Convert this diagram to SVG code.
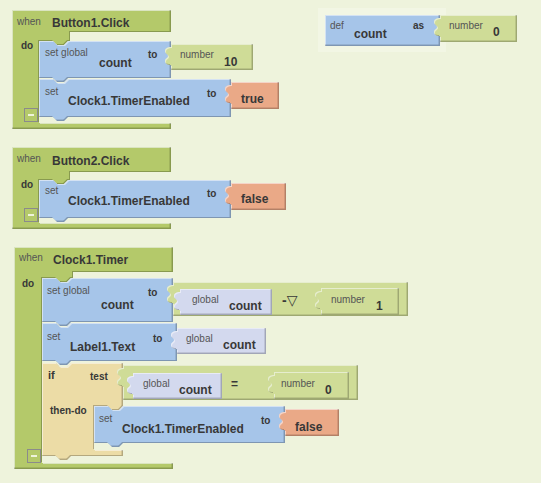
<svg xmlns="http://www.w3.org/2000/svg" width="541" height="483" viewBox="0 0 541 483">
<defs>
<filter id="bevel" x="-5%" y="-10%" width="110%" height="120%">
<feOffset in="SourceAlpha" dx="-1.5" dy="-1.5" result="up"/>
<feComposite in="SourceAlpha" in2="up" operator="out" result="shEdge"/>
<feFlood flood-color="#000" flood-opacity="0.45"/>
<feComposite in2="shEdge" operator="in" result="sh"/>
<feOffset in="SourceAlpha" dx="1" dy="1" result="dn"/>
<feComposite in="SourceAlpha" in2="dn" operator="out" result="hlEdge"/>
<feFlood flood-color="#fff" flood-opacity="0.45"/>
<feComposite in2="hlEdge" operator="in" result="hl"/>
<feMerge><feMergeNode in="SourceGraphic"/><feMergeNode in="hl"/><feMergeNode in="sh"/></feMerge>
</filter>
</defs>
<style>
.blk{filter:url(#bevel)}
.ev{fill:#b4c96a}
.st{fill:#a6c5e9}
.num{fill:#cfdc97}
.bool{fill:#eaa987}
.gl{fill:#d3d9ee}
.ctl{fill:#ecdca6}
text{font-family:"Liberation Sans",Arial,"DejaVu Sans",sans-serif}
.s{font-size:10px;fill:#555}
.b{font-size:12px;font-weight:bold;fill:#383838}
.k{font-size:10px;font-weight:bold;fill:#383838}
.mb{fill:none;stroke:#8b8b8b;stroke-width:1}
.ml{stroke:#eef3dc;stroke-width:2}
</style>
<rect width="541" height="483" fill="#eef3dc"/>
<rect x="318" y="8" width="128" height="44" fill="#f2f6e4"/>

<g id="button1-click">
<path class="blk ev" d="M12,10 H171 V32 H70 V41 H68 l-4,4 h-7 l-4,-4 H39 V123 H171 V129 H12 Z"/>
<text class="s" x="17" y="25">when</text>
<text class="b" x="52" y="27">Button1.Click</text>
<text class="k" x="21" y="49">do</text>
<rect class="mb" x="24.5" y="108.5" width="13" height="13"/>
<line class="ml" x1="28" y1="115" x2="34" y2="115"/>
<g id="b1-set-count">
<path class="blk st" d="M39,41 H53 l4,4 h7 l4,-4 H171 V78 H68 l-4,4 h-7 l-4,-4 H39 Z"/>
<text class="s" x="45" y="56">set global</text>
<text class="b" x="99" y="67">count</text>
<text class="k" x="148" y="58">to</text>
</g>
<g id="b1-number10">
<path class="blk num" d="M171,44 H253 V70 H171 V65 c-3,0 -6,-1 -6,-4 c0,-3 3,-3 3,-5 c0,-2 -3,-2 -3,-5 c0,-3 3,-4 6,-4 Z"/>
<text class="s" x="180" y="58">number</text>
<text class="b" x="224" y="66">10</text>
</g>
<g id="b1-set-timer">
<path class="blk st" d="M39,79 H53 l4,4 h7 l4,-4 H231 V117 H68 l-4,4 h-7 l-4,-4 H39 Z"/>
<text class="s" x="45" y="95">set</text>
<text class="b" x="68" y="105">Clock1.TimerEnabled</text>
<text class="k" x="207" y="97">to</text>
</g>
<g id="b1-true">
<path class="blk bool" d="M231,82 H279 V109 H231 V103 c-3,0 -6,-1 -6,-4 c0,-3 3,-3 3,-5 c0,-2 -3,-2 -3,-5 c0,-3 3,-4 6,-4 Z"/>
<text class="b" x="241" y="103">true</text>
</g>
</g>

<g id="def-count">
<path class="blk st" d="M325,15 H440 V46 H325 Z"/>
<text class="s" x="330" y="29">def</text>
<text class="b" x="354" y="38">count</text>
<text class="k" x="413" y="29">as</text>
<g id="def-number0">
<path class="blk num" d="M440,15 H517 V42 H440 V36 c-3,0 -6,-1 -6,-4 c0,-3 3,-3 3,-5 c0,-2 -3,-2 -3,-5 c0,-3 3,-4 6,-4 Z"/>
<text class="s" x="449" y="29">number</text>
<text class="b" x="493" y="36">0</text>
</g>
</g>

<g id="button2-click">
<path class="blk ev" d="M12,147 H171 V172 H70 V180 H68 l-4,4 h-7 l-4,-4 H39 V223 H171 V229 H12 Z"/>
<text class="s" x="17" y="162">when</text>
<text class="b" x="52" y="165">Button2.Click</text>
<text class="k" x="21" y="188">do</text>
<rect class="mb" x="24.5" y="208.5" width="13" height="13"/>
<line class="ml" x1="28" y1="215" x2="34" y2="215"/>
<g id="b2-set-timer">
<path class="blk st" d="M39,180 H53 l4,4 h7 l4,-4 H231 V218 H68 l-4,4 h-7 l-4,-4 H39 Z"/>
<text class="s" x="45" y="194">set</text>
<text class="b" x="68" y="205">Clock1.TimerEnabled</text>
<text class="k" x="207" y="197">to</text>
</g>
<g id="b2-false">
<path class="blk bool" d="M231,183 H286 V210 H231 V204 c-3,0 -6,-1 -6,-4 c0,-3 3,-3 3,-5 c0,-2 -3,-2 -3,-5 c0,-3 3,-4 6,-4 Z"/>
<text class="b" x="241" y="203">false</text>
</g>
</g>

<g id="clock1-timer">
<path class="blk ev" d="M14,247 H173 V272 H73 V278 H71 l-4,4 h-7 l-4,-4 H42 V463 H173 V469 H14 Z"/>
<text class="s" x="19" y="261">when</text>
<text class="b" x="53" y="264">Clock1.Timer</text>
<text class="k" x="22" y="287">do</text>
<rect class="mb" x="27.5" y="449.5" width="13" height="13"/>
<line class="ml" x1="31" y1="456" x2="37" y2="456"/>
<g id="c-set-count">
<path class="blk st" d="M42,278 H56 l4,4 h7 l4,-4 H173 V322 H71 l-4,4 h-7 l-4,-4 H42 Z"/>
<text class="s" x="47" y="294">set global</text>
<text class="b" x="101" y="309">count</text>
<text class="k" x="148" y="296">to</text>
</g>
<g id="c-minus">
<path class="blk num" d="M173,282 H408 V316 H173 V303 c-3,0 -6,-1 -6,-4 c0,-3 3,-3 3,-5 c0,-2 -3,-2 -3,-5 c0,-3 3,-4 6,-4 Z"/>
<text class="b" x="282" y="305" style="font-size:14px">-▽</text>
</g>
<g id="c-minus-global">
<path class="blk gl" d="M180,289 H272 V315 H180 V310 c-3,0 -6,-1 -6,-4 c0,-3 3,-3 3,-5 c0,-2 -3,-2 -3,-5 c0,-3 3,-4 6,-4 Z"/>
<text class="s" x="192" y="303">global</text>
<text class="b" x="229" y="310">count</text>
</g>
<g id="c-number1">
<path class="blk num" d="M321,288 H399 V315 H321 V309 c-3,0 -6,-1 -6,-4 c0,-3 3,-3 3,-5 c0,-2 -3,-2 -3,-5 c0,-3 3,-4 6,-4 Z"/>
<text class="s" x="331" y="303">number</text>
<text class="b" x="376" y="310">1</text>
</g>
<g id="c-set-label">
<path class="blk st" d="M42,323 H56 l4,4 h7 l4,-4 H177 V361 H71 l-4,4 h-7 l-4,-4 H42 Z"/>
<text class="s" x="47" y="340">set</text>
<text class="b" x="70" y="351">Label1.Text</text>
<text class="k" x="153" y="342">to</text>
</g>
<g id="c-label-global">
<path class="blk gl" d="M177,328 H266 V354 H177 V349 c-3,0 -6,-1 -6,-4 c0,-3 3,-3 3,-5 c0,-2 -3,-2 -3,-5 c0,-3 3,-4 6,-4 Z"/>
<text class="s" x="186" y="342">global</text>
<text class="b" x="223" y="349">count</text>
</g>
<g id="c-if">
<path class="blk ctl" d="M42,363 H56 l4,4 h7 l4,-4 H123 V406 l-4,4 h-7 l-4,-4 H94 V450 H123 V456 H71 l-4,4 h-7 l-4,-4 H42 Z"/>
<text class="b" x="48" y="379" style="font-size:11px">if</text>
<text class="k" x="90" y="380">test</text>
<text class="k" x="50" y="414">then-do</text>
</g>
<g id="c-equals">
<path class="blk num" d="M123,365 H358 V400 H123 V386 c-3,0 -6,-1 -6,-4 c0,-3 3,-3 3,-5 c0,-2 -3,-2 -3,-5 c0,-3 3,-4 6,-4 Z"/>
<text class="b" x="231" y="388">=</text>
</g>
<g id="c-eq-global">
<path class="blk gl" d="M133,373 H222 V399 H133 V394 c-3,0 -6,-1 -6,-4 c0,-3 3,-3 3,-5 c0,-2 -3,-2 -3,-5 c0,-3 3,-4 6,-4 Z"/>
<text class="s" x="143" y="387">global</text>
<text class="b" x="179" y="394">count</text>
</g>
<g id="c-number0">
<path class="blk num" d="M274,372 H349 V399 H274 V393 c-3,0 -6,-1 -6,-4 c0,-3 3,-3 3,-5 c0,-2 -3,-2 -3,-5 c0,-3 3,-4 6,-4 Z"/>
<text class="s" x="281" y="387">number</text>
<text class="b" x="325" y="394">0</text>
</g>
<g id="c-set-timer">
<path class="blk st" d="M94,406 H108 l4,4 h7 l4,-4 H285 V443 H123 l-4,4 h-7 l-4,-4 H94 Z"/>
<text class="s" x="99" y="422">set</text>
<text class="b" x="122" y="433">Clock1.TimerEnabled</text>
<text class="k" x="261" y="424">to</text>
</g>
<g id="c-false">
<path class="blk bool" d="M285,409 H339 V436 H285 V430 c-3,0 -6,-1 -6,-4 c0,-3 3,-3 3,-5 c0,-2 -3,-2 -3,-5 c0,-3 3,-4 6,-4 Z"/>
<text class="b" x="295" y="431">false</text>
</g>
</g>
</svg>
